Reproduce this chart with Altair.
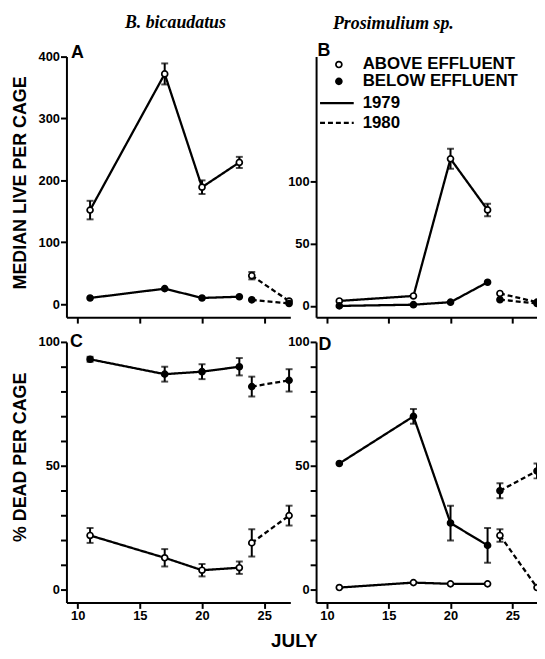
import altair as alt
import pandas as pd

days_79 = [11, 17, 20, 23]
days_80 = [24, 27]

# Panel A: B. bicaudatus, median live per cage
a_above_79 = [152, 372, 189, 229]
a_above_79_err = [15, 17, 11, 9]
a_below_79 = [10, 25, 10, 12]
a_below_79_err = [0, 0, 0, 0]
a_above_80 = [46, 5]
a_above_80_err = [6, 0]
a_below_80 = [7, 1]
a_below_80_err = [0, 0]

# Panel B: Prosimulium sp., median live per cage
b_above_79 = [4, 8, 118, 77]
b_above_79_err = [0, 0, 8, 5]
b_below_79 = [0, 1, 3, 19]
b_below_79_err = [0, 0, 0, 0]
b_above_80 = [10, 3]
b_above_80_err = [0, 0]
b_below_80 = [5, 2]
b_below_80_err = [0, 0]

# Panel C: B. bicaudatus, % dead per cage
c_above_79 = [22, 13, 8, 9]
c_above_79_err = [3, 3.5, 2.5, 2.5]
c_below_79 = [93, 87, 88, 90]
c_below_79_err = [1, 3, 3, 3.5]
c_above_80 = [19, 30]
c_above_80_err = [5.5, 4]
c_below_80 = [82, 84.5]
c_below_80_err = [4, 4.5]

# Panel D: Prosimulium sp., % dead per cage
d_above_79 = [1, 3, 2.5, 2.5]
d_above_79_err = [0, 0, 0, 0]
d_below_79 = [51, 70, 27, 18]
d_below_79_err = [0, 3, 7, 7]
d_above_80 = [22, 1]
d_above_80_err = [2.5, 0]
d_below_80 = [40, 48]
d_below_80_err = [3, 3]

col_titles = ["B. bicaudatus", "Prosimulium sp."]
panel_letters = ["A", "B", "C", "D"]
legend_labels = ["ABOVE EFFLUENT", "BELOW EFFLUENT", "1979", "1980"]
x_ticks = [10, 15, 20, 25]

FONT = "Liberation Sans"


def frame(a79, a79e, b79, b79e, a80, a80e, b80, b80e):
    rows = []
    for site, year, days, vals, errs in [
        ("above", "1979", days_79, a79, a79e),
        ("below", "1979", days_79, b79, b79e),
        ("above", "1980", days_80, a80, a80e),
        ("below", "1980", days_80, b80, b80e),
    ]:
        for d, v, e in zip(days, vals, errs):
            rows.append(dict(day=d, val=v, err=e, lo=v - e, hi=v + e,
                             site=site, year=year, series=site + year))
    return pd.DataFrame(rows)


def txt(text, x, y, size, style="normal", font=FONT, align="center"):
    return alt.Chart(pd.DataFrame({"t": [text]})).mark_text(
        font=font, fontSize=size, fontWeight="bold", fontStyle=style,
        align=align, baseline="middle", color="black"
    ).encode(x=alt.value(x), y=alt.value(y), text="t:N")


AX = dict(grid=False, domain=True, ticks=True, domainColor="black",
          domainWidth=2, tickColor="black", tickWidth=2, tickSize=6,
          labelPadding=1, labelFont=FONT, labelFontSize=13,
          labelFontWeight="bold", labelColor="black")


def panel(df, xdom, width, ydom, yvals, label_expr, show_xlabels, ytitle,
          title_y, clip, extras):
    xaxis = alt.Axis(values=x_ticks, labels=show_xlabels, title=None,
                     format="d", **AX)
    yaxis_kw = dict(values=yvals, labelExpr=label_expr, title=ytitle, **AX)
    if ytitle is not None:
        yaxis_kw["titleY"] = title_y
    yaxis = alt.Axis(**yaxis_kw)
    xs = alt.Scale(domain=xdom, nice=False, zero=False)
    ys = alt.Scale(domain=ydom, nice=False, zero=False)

    def X(f):
        return alt.X(f, type="quantitative", scale=xs, axis=xaxis)

    def Y(f):
        return alt.Y(f, type="quantitative", scale=ys, axis=yaxis)

    base = alt.Chart(df)
    lines = base.mark_line(color="black", strokeWidth=2.3, clip=clip).encode(
        x=X("day"), y=Y("val"), detail="series:N",
        strokeDash=alt.StrokeDash(
            "year:N",
            scale=alt.Scale(domain=["1979", "1980"], range=[[1, 0], [5, 3]]),
            legend=None),
    )
    errd = base.transform_filter("datum.err > 0")
    rules = errd.mark_rule(color="black", strokeWidth=2, clip=clip).encode(
        x=X("day"), y=Y("lo"), y2="hi:Q")
    cap_hi = errd.mark_tick(orient="horizontal", color="black", thickness=2,
                            size=7, clip=clip).encode(x=X("day"), y=Y("hi"))
    cap_lo = errd.mark_tick(orient="horizontal", color="black", thickness=2,
                            size=7, clip=clip).encode(x=X("day"), y=Y("lo"))
    pts = base.mark_point(filled=True, size=36, stroke="black",
                          strokeWidth=1.7, opacity=1, clip=clip).encode(
        x=X("day"), y=Y("val"),
        fill=alt.Fill("site:N",
                      scale=alt.Scale(domain=["above", "below"],
                                      range=["white", "black"]),
                      legend=None),
    )
    return alt.layer(lines, rules, cap_hi, cap_lo, pts, *extras).properties(
        width=width, height=263)


LW = 226
RW = 223
LDOM = [9.1, 27.1]
RDOM = [9.12, 27.0]

df_a = frame(a_above_79, a_above_79_err, a_below_79, a_below_79_err,
             a_above_80, a_above_80_err, a_below_80, a_below_80_err)
df_b = frame(b_above_79, b_above_79_err, b_below_79, b_below_79_err,
             b_above_80, b_above_80_err, b_below_80, b_below_80_err)
df_c = frame(c_above_79, c_above_79_err, c_below_79, c_below_79_err,
             c_above_80, c_above_80_err, c_below_80, c_below_80_err)
df_d = frame(d_above_79, d_above_79_err, d_below_79, d_below_79_err,
             d_above_80, d_above_80_err, d_below_80, d_below_80_err)

one = pd.DataFrame({"k": [0]})
legend_layers = [
    alt.Chart(one).mark_point(filled=True, fill="white", stroke="black",
                              strokeWidth=1.7, size=36, opacity=1).encode(
        x=alt.value(23), y=alt.value(8)),
    alt.Chart(one).mark_point(filled=True, fill="black", stroke="black",
                              strokeWidth=1.7, size=36, opacity=1).encode(
        x=alt.value(23), y=alt.value(25)),
    alt.Chart(one).mark_rule(color="black", strokeWidth=2.3).encode(
        x=alt.value(4), x2=alt.value(38), y=alt.value(47)),
    alt.Chart(one).mark_rule(color="black", strokeWidth=2.3,
                             strokeDash=[5, 3]).encode(
        x=alt.value(4), x2=alt.value(38), y=alt.value(67)),
    txt(legend_labels[0], 47, 8, 17, align="left"),
    txt(legend_labels[1], 47, 25, 17, align="left"),
    txt(legend_labels[2], 47, 47, 17, align="left"),
    txt(legend_labels[3], 47, 67, 17, align="left"),
]

minor_expr = "datum.value % 50 === 0 ? datum.label : ''"

pa = panel(df_a, LDOM, LW, [-21, 400], [0, 100, 200, 300, 400],
           "datum.label", False, "MEDIAN LIVE PER CAGE", 127, False,
           [txt(col_titles[0], 110, -34, 18, style="italic",
                font="Liberation Serif"),
            txt(panel_letters[0], 11, -4, 18)])
pb = panel(df_b, RDOM, RW, [-9, 200], [0, 50, 100],
           "datum.label", False, None, 0, True,
           [txt(col_titles[1], 78, -33, 18, style="italic",
                font="Liberation Serif"),
            txt(panel_letters[1], 8, -6, 18)] + legend_layers)
pc = panel(df_c, LDOM, LW, [-5, 100], list(range(0, 101, 10)),
           minor_expr, True, "% DEAD PER CAGE", 116, False,
           [txt(panel_letters[2], 10, 0, 18)])
pd_ = panel(df_d, RDOM, RW, [-5, 100], list(range(0, 101, 10)),
            minor_expr, True, None, 0, True,
            [txt(panel_letters[3], 9, 3, 18),
             txt("JULY", -22, 302, 19)])

chart = alt.concat(pa, pb, pc, pd_, columns=2,
                   spacing=alt.RowColnumber(row=25, column=26),
                   bounds="flush").properties(
    padding={"left": 3, "top": 3, "right": 0, "bottom": 3},
    background="white",
).configure_view(stroke=None).configure_axis(
    titleFont=FONT, titleFontSize=18, titleFontWeight="bold",
    titleColor="black", titlePadding=9,
)

chart.save("out.html", embed_options={"renderer": "svg", "actions": False})
